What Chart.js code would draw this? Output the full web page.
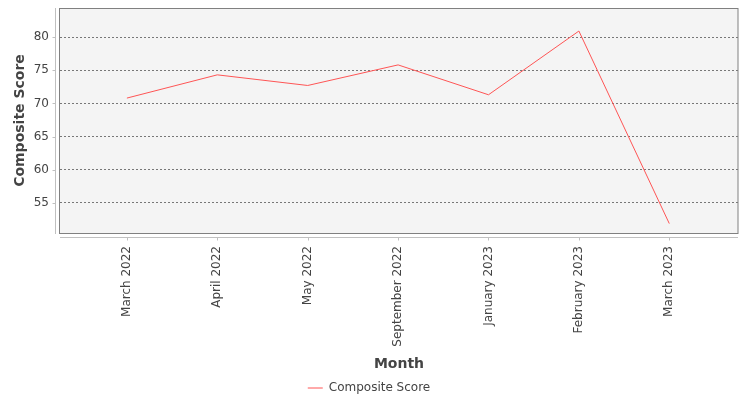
<!DOCTYPE html>
<html>
<head>
<meta charset="utf-8">
<script src="https://cdn.jsdelivr.net/npm/chart.js@4/dist/chart.umd.min.js"></script>
<style>
  html, body { margin: 0; padding: 0; background: #fff; }
  #wrap { width: 750px; height: 400px; }
</style>
</head>
<body>
<div id="wrap"><canvas id="chart" width="750" height="400"></canvas></div>
<script>
const months = ['March 2022', 'April 2022', 'May 2022', 'September 2022', 'January 2023', 'February 2023', 'March 2023'];
const scores = [70.8, 74.3, 72.7, 75.8, 71.3, 80.9, 51.9];
const yTicks = [55, 60, 65, 70, 75, 80];

const textColor = '#444';
const plotTop = 8;
const plotBottom = 233;

// JFreeChart-ish plot frame: grey background, outline, axis lines set off by 4px
const framePlugin = {
  id: 'frame',
  beforeDraw(chart) {
    const {ctx, chartArea: a} = chart;
    ctx.save();
    ctx.fillStyle = '#f4f4f4';
    ctx.fillRect(a.left, a.top, a.right - a.left, a.bottom - a.top);
    ctx.restore();
  },
  afterDraw(chart) {
    const {ctx, chartArea: a, scales} = chart;
    ctx.save();
    ctx.lineWidth = 1;
    ctx.strokeStyle = '#808080';
    ctx.strokeRect(a.left - 0.5, a.top + 0.5, a.right - a.left + 0.5, a.bottom - a.top);

    ctx.strokeStyle = '#c0c0c0';
    ctx.beginPath();
    const yx = a.left - 4.5;
    ctx.moveTo(yx, a.top);
    ctx.lineTo(yx, a.bottom + 1);
    scales.y.ticks.forEach(t => {
      const py = Math.round(scales.y.getPixelForValue(t.value)) + 0.5;
      ctx.moveTo(yx - 3, py);
      ctx.lineTo(yx, py);
    });
    const xy = a.bottom + 4.5;
    ctx.moveTo(a.left, xy);
    ctx.lineTo(a.right, xy);
    scales.x.ticks.forEach(t => {
      const px = Math.round(scales.x.getPixelForValue(t.value)) + 0.5;
      ctx.moveTo(px, xy);
      ctx.lineTo(px, xy + 3);
    });
    ctx.stroke();
    ctx.restore();
  }
};

new Chart(document.getElementById('chart'), {
  type: 'line',
  data: {
    datasets: [{
      label: 'Composite Score',
      data: scores.map((v, i) => ({x: i, y: v})),
      borderColor: '#ff5555',
      backgroundColor: '#ff5555',
      borderWidth: 1,
      pointRadius: 0,
      tension: 0,
      fill: false
    }]
  },
  options: {
    responsive: false,
    animation: false,
    devicePixelRatio: 1,
    layout: { padding: { left: 0, top: plotTop, right: 12, bottom: -4 } },
    plugins: {
      tooltip: { enabled: false },
      legend: {
        position: 'bottom',
        labels: {
          usePointStyle: true,
          pointStyle: 'line',
          pointStyleWidth: 15,
          padding: 10,
          color: textColor,
          font: { family: 'DejaVu Sans', size: 12 }
        }
      }
    },
    scales: {
      x: {
        type: 'linear',
        min: -0.74,
        max: 6.76,
        afterBuildTicks: s => { s.ticks = months.map((m, i) => ({value: i})); },
        afterFit: s => {
          s.height = s.chart.height + 4 - s.chart.legend.height - plotBottom;
          s.paddingLeft = s.paddingRight = 0;
        },
        grid: { display: false, drawTicks: false },
        border: { display: false },
        ticks: {
          minRotation: 90,
          maxRotation: 90,
          padding: 13,
          color: textColor,
          font: { family: 'DejaVu Sans', size: 12 },
          callback: v => months[v]
        },
        title: {
          display: true,
          text: 'Month',
          color: textColor,
          padding: { top: 0, bottom: -1 },
          font: { family: 'DejaVu Sans', size: 14, weight: 'bold' }
        }
      },
      y: {
        min: 50.48,
        max: 84.37,
        afterBuildTicks: s => { s.ticks = yTicks.map(v => ({value: v})); },
        afterFit: s => {
          s.width = 60;
          s.paddingTop = s.paddingBottom = 0;
        },
        grid: { color: '#777', lineWidth: 1, drawTicks: false },
        border: { display: false, dash: [2, 2] },
        ticks: {
          padding: 11,
          color: textColor,
          font: { family: 'DejaVu Sans', size: 12 }
        },
        title: {
          display: true,
          text: 'Composite Score',
          color: textColor,
          padding: { top: 12, bottom: 0 },
          font: { family: 'DejaVu Sans', size: 14, weight: 'bold' }
        }
      }
    }
  },
  plugins: [framePlugin]
});
</script>
</body>
</html>
